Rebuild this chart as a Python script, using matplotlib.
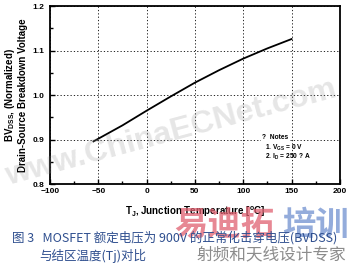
import numpy as np, matplotlib; matplotlib.use("Agg")
import matplotlib.pyplot as plt
from matplotlib.ticker import MultipleLocator

plt.rcParams.update({"font.family": ["Liberation Sans", "DejaVu Sans"], "font.weight": "bold",
                     "mathtext.default": "regular", "axes.linewidth": 1.3})

# values
temp = [-55, -25, 0, 25, 50, 75, 100, 125, 150]
bv = [0.896, 0.932, 0.965, 0.997, 1.028, 1.056, 1.082, 1.105, 1.126]
xticks = [-100, -50, 0, 50, 100, 150, 200]
yticks = [0.8, 0.9, 1.0, 1.1, 1.2]
ylabels = ["0.8", "0.9", "1.0", "1.1", "1.2"]

fig = plt.figure(figsize=(3.5, 2.66), dpi=100)
ax = fig.add_axes([0.143, 0.308, 0.828, 0.669])
ax.plot(temp, bv, color="black", lw=1.3, zorder=3)
ax.set_xlim(-100, 200); ax.set_ylim(0.8, 1.2)
ax.set_xticks(xticks); ax.set_yticks(yticks); ax.set_yticklabels(ylabels)
ax.xaxis.set_minor_locator(MultipleLocator(25)); ax.yaxis.set_minor_locator(MultipleLocator(0.05))
ax.tick_params(which="both", direction="in", labelsize=6, width=1.0)
ax.tick_params(axis="x", pad=3); ax.tick_params(axis="y", pad=4)
ax.tick_params(which="major", length=3.5); ax.tick_params(which="minor", length=2)
for t in ax.get_xticklabels() + ax.get_yticklabels(): t.set_fontweight("bold")
ax.grid(True, which="major", color="black", ls=(0, (1.5, 2.5)), lw=0.6)

ax.set_xlabel("T$_J$, Junction Temperature [$^o$C]", fontsize=7, fontweight="bold", labelpad=7)
ax.set_ylabel("BV$_{DSS}$, (Normalized)\nDrain-Source Breakdown Voltage", fontsize=7,
              fontweight="bold", labelpad=3, linespacing=1.2)

ax.text(119, 0.904, "?  Notes", fontsize=4.8, fontweight="bold", va="center",
        bbox=dict(fc="white", ec="none", pad=0.5))
ax.text(123, 0.881, "1. V$_{GS}$ = 0 V", fontsize=4.8, fontweight="bold", va="center")
ax.text(123, 0.861, "2. I$_D$ = 250 ? A", fontsize=4.8, fontweight="bold", va="center")

# watermark
fig.text(0.49, 0.50, "www.ChinaECNet.com", fontsize=23, fontweight="bold", color="0.55",
         alpha=0.22, rotation=15, ha="center", va="center")

cjk = ["Noto Sans CJK SC", "DejaVu Sans"]
fig.text(0.785, 0.152, "易迪拓", fontsize=24, color="#e06070", alpha=0.75, ha="right", va="center",
         family=cjk, fontweight="bold")
fig.text(0.805, 0.152, "培训", fontsize=24, color="#7090d0", alpha=0.75, ha="left", va="center",
         family=cjk, fontweight="bold")
fig.text(0.776, 0.041, "射频和天线设计专家", fontsize=12, color="0.55", ha="center", va="center",
         family=cjk, fontweight="normal")

capc = "#2f4f8f"
fig.text(0.035, 0.105, "图 3   MOSFET 额定电压为 900V 的正常化击穿电压(BVDSS)", fontsize=9,
         color=capc, style="italic", family=cjk, fontweight="normal", va="center")
fig.text(0.266, 0.038, "与结区温度(Tj)对比", fontsize=9, color=capc, style="italic",
         family=cjk, fontweight="normal", va="center", ha="center")

fig.savefig("out.png", dpi=100)
